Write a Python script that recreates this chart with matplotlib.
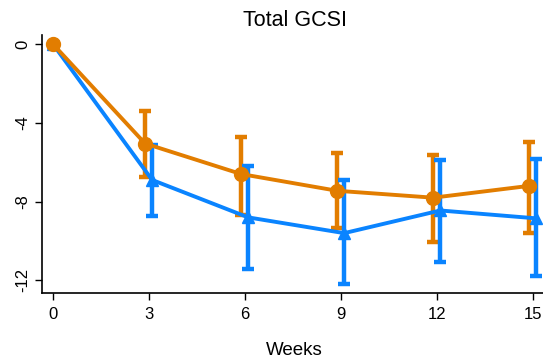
import numpy as np
import matplotlib
matplotlib.use("Agg")
import matplotlib.pyplot as plt

plt.rcParams['font.family'] = ['Liberation Sans', 'DejaVu Sans']

weeks = np.array([0, 3, 6, 9, 12, 15])

# orange group (circles)
orange_mean = np.array([0.0, -5.05, -6.6, -7.45, -7.8, -7.2])
orange_lo = np.array([0.0, -6.75, -8.7, -9.35, -10.05, -9.6])
orange_hi = np.array([0.0, -3.4, -4.7, -5.55, -5.65, -4.95])

# blue group (triangles)
blue_mean = np.array([0.0, -6.9, -8.8, -9.6, -8.45, -8.85])
blue_lo = np.array([0.0, -8.75, -11.4, -12.2, -11.05, -11.8])
blue_hi = np.array([0.0, -5.1, -6.2, -6.9, -5.9, -5.85])

c_orange = '#E27D00'
c_blue = '#0A84FF'

fig = plt.figure(figsize=(5.43, 3.59), dpi=100)
ax = fig.add_axes([42 / 543, 66 / 359, (543 - 42) / 543, (293 - 35) / 359])

# small horizontal dodge so the bars don't sit on top of each other
xo = weeks - 0.12
xb = weeks + 0.1
xb[0] = 0
xo[0] = 0

ax.errorbar(xo[1:], orange_mean[1:],
            yerr=[orange_mean[1:] - orange_lo[1:], orange_hi[1:] - orange_mean[1:]],
            fmt='none', ecolor=c_orange, elinewidth=3.2, capsize=4.5, capthick=3.2, zorder=2)
ax.errorbar(xb[1:], blue_mean[1:],
            yerr=[blue_mean[1:] - blue_lo[1:], blue_hi[1:] - blue_mean[1:]],
            fmt='none', ecolor=c_blue, elinewidth=3.2, capsize=4.5, capthick=3.2, zorder=3)
ax.plot(xb, blue_mean, color=c_blue, lw=2.8, marker='^', ms=9, zorder=4)
ax.plot(xo, orange_mean, color=c_orange, lw=2.8, marker='o', ms=10, zorder=5)

ax.set_xlim(-0.34, 15.31)
ax.set_ylim(-12.64, 0.46)
ax.set_xticks(weeks)
ax.set_yticks([0, -4, -8, -12])
ax.set_yticklabels(['0', '-4', '-8', '-12'], rotation=90, va='center')
ax.tick_params(labelsize=12, length=5, width=1, direction='out')
ax.tick_params(axis='x', pad=5)
ax.tick_params(axis='y', pad=3.5)

for s in ['top', 'right']:
    ax.spines[s].set_visible(False)
for s in ['left', 'bottom']:
    ax.spines[s].set_linewidth(1.2)

fig.text(294 / 543, 1 - 355 / 359, 'Weeks', ha='center', va='baseline', fontsize=13.5)
fig.text(295 / 543, 1 - 20 / 359, 'Total GCSI', ha='center', va='center', fontsize=15.5)

fig.savefig('out.png', dpi=100)
